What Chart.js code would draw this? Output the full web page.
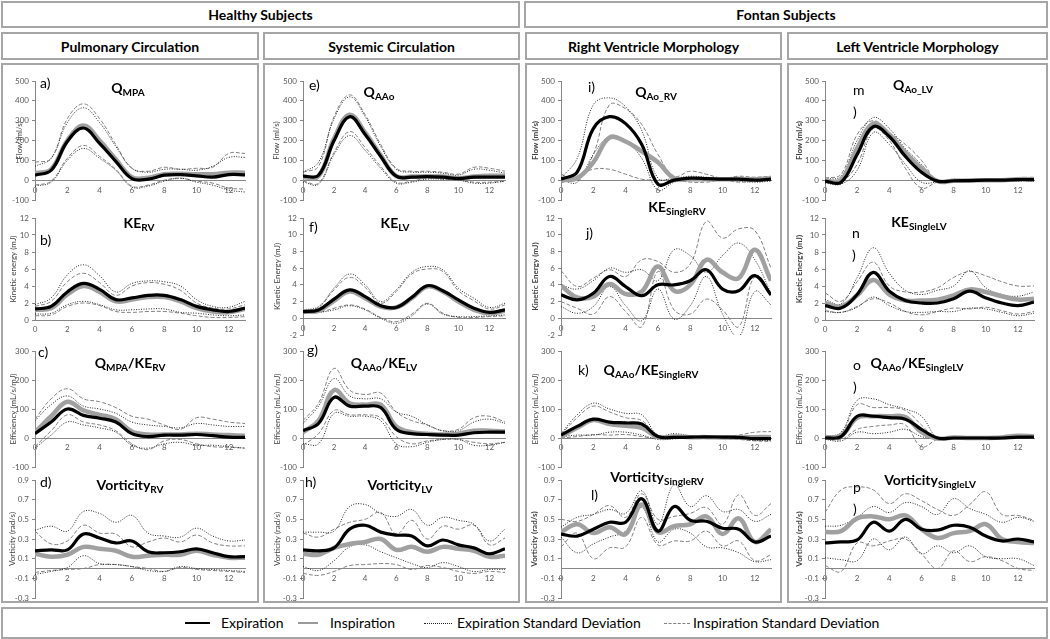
<!DOCTYPE html>
<html>
<head>
<meta charset="utf-8">
<script src="https://cdn.jsdelivr.net/npm/chart.js@4.4.1/dist/chart.umd.min.js"></script>
<style>
  body { margin: 0; background: #fff; width: 1050px; height: 639px; position: relative; overflow: hidden; font-family: Lato, "Open Sans", sans-serif; color: #000; }
  .box { position: absolute; border: 2px solid #a6a6a6; box-sizing: border-box; }
  .hdr { display: flex; align-items: center; justify-content: center; font-weight: bold; font-size: 14px; }
  canvas { position: absolute; }
  .let { position: absolute; font-size: 14px; line-height: 22px; }
  .ttl { position: absolute; font-weight: bold; font-size: 14px; transform: translate(-50%, -50%); white-space: nowrap; }
  .ttl sub { font-size: 10px; vertical-align: -3px; }
  .lg { position: absolute; height: 0; }
  .lgt { position: absolute; font-size: 14px; line-height: 16px; top: 615px; }
</style>
</head>
<body>
<div class="box hdr" style="left:1px;top:1px;width:519px;height:27px">Healthy Subjects</div>
<div class="box hdr" style="left:524px;top:1px;width:524px;height:27px">Fontan Subjects</div>
<div class="box hdr" style="left:1px;top:32px;width:258px;height:28px">Pulmonary Circulation</div>
<div class="box hdr" style="left:263px;top:32px;width:257px;height:28px">Systemic Circulation</div>
<div class="box hdr" style="left:525px;top:32px;width:257px;height:28px">Right Ventricle Morphology</div>
<div class="box hdr" style="left:787px;top:32px;width:261px;height:28px">Left Ventricle Morphology</div>
<div class="box" style="left:1px;top:63px;width:258px;height:540px"></div>
<div class="box" style="left:263px;top:63px;width:257px;height:540px"></div>
<div class="box" style="left:525px;top:63px;width:257px;height:540px"></div>
<div class="box" style="left:787px;top:63px;width:261px;height:540px"></div>
<div class="box" style="left:1px;top:607px;width:1047px;height:32px"></div>

<div class="lg" style="left:185px;top:622px;width:25px;border-top:2px solid #000"></div>
<div class="lgt" style="left:221px">Expiration</div>
<div class="lg" style="left:298px;top:622px;width:20px;border-top:2px solid #999"></div>
<div class="lgt" style="left:330px">Inspiration</div>
<div class="lg" style="left:424px;top:623px;width:28px;border-top:1px dotted #222"></div>
<div class="lgt" style="left:457px">Expiration Standard Deviation</div>
<div class="lg" style="left:664px;top:623px;width:26px;border-top:1px dashed #808080"></div>
<div class="lgt" style="left:693px">Inspiration Standard Deviation</div>

<script>
// eixo x: tempo (0..13)
const time = [0, 1, 2, 3, 4, 5, 6, 7, 8, 9, 10, 11, 12, 13];

// faixas dos eixos y: [min, max, passo]
const flowAxis = [-100, 500, 100];
const keAxis = [0, 12, 2];
const keAxisNeg = [-2, 12, 2];
const effAxis = [-100, 300, 100];
const vortAxis = [-0.3, 0.9, 0.2];

// a) Q MPA
const qMpaExp     = [25, 50, 195, 263, 185, 95, 8, 5, 25, 28, 22, 15, 28, 27];
const qMpaIns     = [35, 55, 200, 275, 200, 105, 15, 12, 30, 32, 30, 30, 38, 38];
const qMpaExpSdHi = [70, 110, 290, 365, 290, 170, 60, 40, 55, 55, 50, 70, 115, 115];
const qMpaExpSdLo = [-30, -10, 100, 160, 110, 50, -35, -30, -5, 10, -10, -25, -50, -60];
const qMpaInsSdHi = [90, 110, 310, 385, 310, 180, 60, 45, 65, 55, 60, 65, 135, 135];
const qMpaInsSdLo = [-25, -5, 110, 175, 120, 55, -30, -25, 0, 10, -5, -15, -40, -45];

// b) KE RV
const keRvExp     = [1.3, 1.6, 3.3, 4.3, 3.6, 2.4, 2.6, 2.9, 2.9, 2.4, 1.6, 1.2, 1.0, 1.4];
const keRvIns     = [1.2, 1.4, 3.0, 4.0, 3.3, 2.2, 2.4, 2.7, 2.7, 2.2, 1.4, 1.0, 0.9, 1.3];
const keRvExpSdHi = [1.8, 2.6, 5.3, 6.5, 5.2, 3.3, 4.3, 4.6, 4.5, 4.0, 2.4, 1.6, 1.5, 2.2];
const keRvExpSdLo = [0.7, 0.8, 1.8, 2.2, 1.8, 1.2, 1.2, 1.3, 1.3, 0.9, 0.8, 0.6, 0.5, 0.6];
const keRvInsSdHi = [1.6, 2.2, 4.5, 5.5, 4.4, 2.9, 4.0, 4.4, 4.2, 3.5, 2.0, 1.4, 1.3, 1.8];
const keRvInsSdLo = [0.5, 0.6, 1.6, 2.0, 1.7, 1.0, 0.9, 1.0, 1.0, 0.8, 0.5, 0.3, 0.3, 0.4];

// c) Q MPA / KE RV
const effRvExp     = [15, 55, 100, 78, 68, 55, 15, 5, 10, 10, 12, 8, 3, 2];
const effRvIns     = [20, 75, 125, 95, 80, 65, 22, 12, 12, 12, 15, 12, 10, 8];
const effRvExpSdHi = [60, 115, 145, 110, 100, 85, 55, 45, 40, 35, 50, 45, 40, 40];
const effRvExpSdLo = [-35, 10, 55, 45, 35, 20, -25, -35, -20, -15, -25, -25, -30, -35];
const effRvInsSdHi = [65, 135, 170, 135, 125, 105, 75, 65, 45, 30, 70, 65, 55, 50];
const effRvInsSdLo = [-30, 25, 80, 55, 45, 25, -20, -40, -10, -5, -20, -30, -32, -35];

// d) Vorticity RV
const vortRvExp     = [0.18, 0.19, 0.19, 0.35, 0.31, 0.26, 0.28, 0.17, 0.16, 0.17, 0.20, 0.16, 0.12, 0.12];
const vortRvIns     = [0.15, 0.12, 0.14, 0.22, 0.20, 0.18, 0.12, 0.13, 0.14, 0.14, 0.18, 0.14, 0.11, 0.11];
const vortRvExpSdHi = [0.39, 0.43, 0.38, 0.58, 0.56, 0.47, 0.54, 0.36, 0.33, 0.32, 0.41, 0.33, 0.28, 0.29];
const vortRvExpSdLo = [-0.06, -0.03, 0.01, 0.13, 0.05, 0.04, 0.02, -0.02, -0.03, 0.02, 0.0, -0.01, -0.02, -0.03];
const vortRvInsSdHi = [0.38, 0.25, 0.28, 0.44, 0.36, 0.35, 0.22, 0.27, 0.31, 0.27, 0.34, 0.26, 0.23, 0.23];
const vortRvInsSdLo = [-0.04, -0.02, -0.01, 0.0, 0.04, 0.04, 0.02, 0.0, -0.03, 0.01, -0.01, -0.02, -0.03, -0.04];

// e) Q AAo
const qAAoExp     = [20, 25, 200, 320, 230, 120, 20, 15, 18, 15, 8, 15, 15, 15];
const qAAoIns     = [15, 20, 210, 330, 240, 125, 20, 18, 20, 18, 10, 18, 22, 22];
const qAAoExpSdHi = [40, 90, 310, 420, 320, 170, 55, 40, 40, 35, 25, 55, 50, 35];
const qAAoExpSdLo = [-10, -20, 130, 225, 150, 60, -15, -10, 5, 5, 0, -15, -15, -5];
const qAAoInsSdHi = [40, 70, 320, 430, 330, 180, 60, 45, 45, 40, 30, 65, 60, 45];
const qAAoInsSdLo = [-5, -15, 140, 245, 165, 70, -10, -5, 10, 5, 0, -10, -10, -5];

// f) KE LV
const keLvExp     = [0.8, 1.0, 2.3, 3.4, 2.6, 1.5, 1.3, 2.5, 3.9, 3.3, 2.2, 1.2, 0.7, 1.0];
const keLvIns     = [0.8, 0.9, 2.1, 3.2, 2.4, 1.4, 1.3, 2.4, 3.8, 3.2, 2.0, 1.0, 0.6, 0.9];
const keLvExpSdHi = [1.0, 1.4, 3.6, 5.3, 4.0, 2.0, 3.4, 5.5, 6.2, 5.8, 3.6, 2.4, 1.3, 1.8];
const keLvExpSdLo = [0.6, 0.7, 1.0, 1.5, 1.0, 0.0, -0.6, 0.3, 1.7, 0.5, 0.2, 0.2, 0.3, 0.4];
const keLvInsSdHi = [0.9, 1.3, 3.4, 4.9, 3.7, 1.8, 3.2, 5.3, 5.9, 5.6, 3.3, 2.1, 1.1, 1.6];
const keLvInsSdLo = [0.6, 0.7, 1.2, 1.6, 1.1, 0.1, -0.4, 0.5, 1.8, 0.6, 0.1, 0.1, 0.2, 0.3];

// g) Q AAo / KE LV
const effLvExp     = [25, 50, 140, 110, 110, 105, 30, 15, 12, 10, 10, 18, 20, 20];
const effLvIns     = [20, 60, 165, 120, 115, 115, 40, 20, 15, 12, 15, 25, 25, 22];
const effLvExpSdHi = [50, 110, 205, 145, 135, 135, 90, 75, 45, 25, 25, 55, 65, 50];
const effLvExpSdLo = [-20, -20, 85, 75, 75, 60, -20, -30, -15, -5, -5, -25, -25, -15];
const effLvInsSdHi = [60, 120, 240, 165, 150, 155, 90, 60, 45, 25, 30, 70, 75, 55];
const effLvInsSdLo = [-25, 15, 95, 80, 80, 70, 5, -20, -10, -5, -5, -15, -20, -15];

// h) Vorticity LV
const vortLvExp     = [0.19, 0.18, 0.21, 0.40, 0.44, 0.37, 0.34, 0.33, 0.23, 0.29, 0.24, 0.21, 0.15, 0.20];
const vortLvIns     = [0.15, 0.14, 0.21, 0.25, 0.27, 0.30, 0.19, 0.22, 0.17, 0.22, 0.20, 0.18, 0.12, 0.13];
const vortLvExpSdHi = [0.37, 0.37, 0.38, 0.63, 0.65, 0.56, 0.53, 0.60, 0.44, 0.52, 0.49, 0.45, 0.28, 0.40];
const vortLvExpSdLo = [0.02, -0.02, 0.08, 0.22, 0.24, 0.17, 0.11, 0.05, 0.01, 0.06, 0.02, -0.03, -0.01, -0.01];
const vortLvInsSdHi = [0.36, 0.32, 0.40, 0.47, 0.50, 0.57, 0.35, 0.49, 0.30, 0.43, 0.40, 0.44, 0.24, 0.31];
const vortLvInsSdLo = [-0.05, -0.07, -0.03, 0.03, 0.04, 0.05, 0.04, -0.01, 0.03, 0.01, -0.03, -0.05, -0.03, -0.04];

// i) Q Ao_RV
const qAoRvExp     = [5, 40, 260, 320, 285, 180, -20, 0, 10, 8, 5, 5, 0, 5];
const qAoRvIns     = [0, 10, 90, 215, 195, 145, 90, 10, 5, 5, 5, 5, 5, 8];
const qAoRvExpSdHi = [10, 110, 380, 415, 370, 250, 10, 10, 20, 15, 10, 15, 10, 15];
const qAoRvExpSdLo = [0, -10, 130, 220, 195, 110, -50, -10, 0, 0, 0, -5, -10, -5];
const qAoRvInsSdHi = [30, 5, 130, 380, 360, 280, 130, 20, 45, 30, 10, 20, 15, 20];
const qAoRvInsSdLo = [-15, 20, 55, 55, 30, 5, 0, 0, -10, -10, 0, -10, -5, 0];

// j) KE SingleRV
const keSrvExp     = [2.8, 2.2, 3.0, 5.0, 3.8, 2.7, 4.0, 4.0, 4.5, 5.8, 3.5, 3.3, 5.1, 2.8];
const keSrvIns     = [3.9, 2.5, 2.6, 4.1, 2.9, 3.2, 6.2, 3.3, 4.0, 7.0, 5.5, 4.8, 8.2, 4.5];
const keSrvExpSdHi = [4.0, 3.5, 4.5, 6.0, 5.5, 5.8, 4.5, 8.2, 7.5, 5.5, 7.5, 9.0, 7.0, 3.0];
const keSrvExpSdLo = [1.4, 0.6, 1.4, 3.8, 1.5, -0.3, 3.5, -0.1, 1.5, 5.0, 0.5, -2.2, 3.2, 1.6];
const keSrvInsSdHi = [5.7, 3.8, 4.8, 5.8, 5.0, 7.0, 6.8, 5.5, 6.5, 11.6, 9.6, 10.7, 10.5, 6.0];
const keSrvInsSdLo = [2.0, 1.2, 0.5, 2.6, 0.8, -1.0, 5.6, 1.0, 0.5, 2.3, 1.0, -1.0, 5.0, 3.0];

// k) Q AAo / KE SingleRV
const effSrvExp     = [10, 40, 65, 55, 52, 48, 5, 2, 3, 4, 3, 2, -2, -2];
const effSrvIns     = [5, 35, 62, 48, 42, 35, 3, 5, 3, 3, 2, 2, 3, 3];
const effSrvExpSdHi = [15, 80, 120, 100, 85, 80, 10, 15, 8, 6, 5, 5, 3, 3];
const effSrvExpSdLo = [5, 10, 10, 20, 20, 10, -5, -3, 0, 2, 0, -3, -8, -8];
const effSrvInsSdHi = [12, 70, 110, 90, 70, 60, 8, 8, 6, 5, 5, 10, 20, 22];
const effSrvInsSdLo = [0, 5, 12, 10, 12, 5, -2, 0, 0, 0, -2, -5, -10, -12];

// l) Vorticity SingleRV
const vortSrvExp     = [0.35, 0.33, 0.40, 0.47, 0.47, 0.71, 0.38, 0.63, 0.49, 0.48, 0.41, 0.40, 0.27, 0.33];
const vortSrvIns     = [0.37, 0.45, 0.36, 0.42, 0.35, 0.65, 0.37, 0.43, 0.45, 0.53, 0.35, 0.51, 0.27, 0.40];
const vortSrvExpSdHi = [0.42, 0.52, 0.55, 0.60, 0.56, 0.79, 0.45, 0.85, 0.63, 0.74, 0.58, 0.60, 0.48, 0.55];
const vortSrvExpSdLo = [0.32, 0.16, 0.25, 0.32, 0.38, 0.62, 0.27, 0.40, 0.36, 0.22, 0.21, 0.16, 0.07, 0.09];
const vortSrvInsSdHi = [0.50, 0.48, 0.55, 0.64, 0.52, 0.76, 0.50, 0.53, 0.56, 0.62, 0.45, 0.75, 0.54, 0.66];
const vortSrvInsSdLo = [0.22, 0.36, 0.10, 0.21, 0.22, 0.52, 0.24, 0.28, 0.28, 0.38, 0.23, 0.28, 0.08, 0.14];

// m) Q Ao_LV
const qAoLvExp     = [-5, -10, 130, 270, 220, 120, 40, -5, -3, -2, 0, 0, 3, 3];
const qAoLvIns     = [-3, 0, 160, 285, 230, 140, 60, -5, -3, -2, 0, 0, 5, 5];
const qAoLvExpSdHi = [5, 20, 200, 315, 260, 160, 80, 0, 5, 2, 5, 5, 10, 10];
const qAoLvExpSdLo = [-15, -20, 50, 240, 180, 80, -10, -10, -10, -8, -5, -5, -5, -5];
const qAoLvInsSdHi = [10, 30, 230, 300, 240, 180, 100, -5, 0, 0, 2, 2, 12, 15];
const qAoLvInsSdLo = [-10, -10, 80, 260, 200, 60, -40, -10, -8, -5, -5, -5, -3, -3];

// n) KE SingleLV
const keSlvExp     = [1.7, 1.4, 3.0, 5.6, 3.4, 2.3, 2.0, 2.0, 2.5, 3.4, 2.6, 2.0, 1.7, 2.1];
const keSlvIns     = [2.0, 1.6, 2.9, 4.7, 3.0, 2.3, 2.3, 2.4, 2.9, 3.6, 3.3, 2.8, 2.4, 2.5];
const keSlvExpSdHi = [2.4, 1.9, 5.0, 8.5, 5.5, 3.5, 3.0, 3.5, 4.0, 5.8, 3.8, 3.0, 2.8, 3.3];
const keSlvExpSdLo = [1.0, 0.9, 1.5, 2.7, 1.7, 1.0, 0.9, 1.0, 1.0, 1.4, 1.3, 0.9, 0.5, 0.8];
const keSlvInsSdHi = [3.2, 2.2, 4.5, 6.8, 4.0, 3.3, 3.3, 3.8, 5.0, 5.7, 5.2, 4.5, 4.0, 4.0];
const keSlvInsSdLo = [1.1, 0.9, 1.6, 2.5, 2.0, 1.0, 0.6, 1.0, 1.4, 1.3, 1.5, 1.1, 0.7, 1.0];

// o) Q AAo / KE SingleLV
const effSlvExp     = [0, 5, 75, 75, 70, 65, 30, 0, 0, 0, 0, 0, 3, 3];
const effSlvIns     = [2, 8, 70, 75, 75, 72, 20, -2, 2, 0, 0, 2, 8, 5];
const effSlvExpSdHi = [5, 20, 130, 135, 115, 100, 75, 0, 5, 3, 2, 2, 10, 8];
const effSlvExpSdLo = [-5, -10, 20, 15, 20, 30, 5, -3, -3, -2, -2, -2, 0, 0];
const effSlvInsSdHi = [5, 15, 115, 105, 105, 95, 45, -5, 3, 2, 0, 3, 12, 5];
const effSlvInsSdLo = [-3, -5, 30, 40, 45, 45, -30, -5, -2, -2, -2, 0, 5, 3];

// p) Vorticity SingleLV
const vortSlvExp     = [0.26, 0.27, 0.29, 0.47, 0.38, 0.50, 0.40, 0.39, 0.44, 0.42, 0.33, 0.28, 0.30, 0.27];
const vortSlvIns     = [0.37, 0.38, 0.51, 0.53, 0.50, 0.54, 0.40, 0.31, 0.36, 0.38, 0.45, 0.30, 0.27, 0.26];
const vortSlvExpSdHi = [0.43, 0.44, 0.52, 0.63, 0.57, 0.67, 0.63, 0.55, 0.71, 0.61, 0.55, 0.47, 0.52, 0.48];
const vortSlvExpSdLo = [0.11, 0.09, 0.08, 0.30, 0.19, 0.32, 0.15, 0.23, 0.16, 0.23, 0.12, 0.10, 0.10, 0.03];
const vortSlvInsSdHi = [0.57, 0.80, 0.83, 0.80, 0.66, 0.76, 0.69, 0.60, 0.54, 0.65, 0.78, 0.55, 0.54, 0.49];
const vortSlvInsSdLo = [0.03, -0.03, 0.26, 0.23, 0.28, 0.30, 0.15, 0.00, 0.18, 0.07, 0.12, 0.08, 0.00, -0.02];

// posição da área de plotagem de cada coluna / linha
const colL = [35, 303, 561, 825];
const colR = [245, 505, 771, 1034];
const rowT = [81, 218, 351, 480];
const rowB = [200, 320, 467, 598];

const panels = [
  { col: 0, row: 0, axis: flowAxis, yTitle: 'Flow (ml/s)', tOff: 15, letter: 'a)', lx: 40, ly: 83, title: 'Q<sub>MPA</sub>', tx: 128, ty: 88,
    s: [qMpaExp, qMpaIns, qMpaExpSdHi, qMpaExpSdLo, qMpaInsSdHi, qMpaInsSdLo] },
  { col: 0, row: 1, axis: keAxis, yTitle: 'Kinetic energy (mJ)', tOff: 21, letter: 'b)', lx: 40, ly: 240, title: 'KE<sub>RV</sub>', tx: 139, ty: 223,
    s: [keRvExp, keRvIns, keRvExpSdHi, keRvExpSdLo, keRvInsSdHi, keRvInsSdLo] },
  { col: 0, row: 2, axis: effAxis, yTitle: 'Efficiency (mL/s/mJ)', tOff: 21, letter: 'c)', lx: 38, ly: 352, title: 'Q<sub>MPA</sub>/KE<sub>RV</sub>', tx: 130, ty: 363,
    s: [effRvExp, effRvIns, effRvExpSdHi, effRvExpSdLo, effRvInsSdHi, effRvInsSdLo] },
  { col: 0, row: 3, axis: vortAxis, yTitle: 'Vorticity (rad/s)', tOff: 22, letter: 'd)', lx: 40, ly: 482, title: 'Vorticity<sub>RV</sub>', tx: 130, ty: 485,
    s: [vortRvExp, vortRvIns, vortRvExpSdHi, vortRvExpSdLo, vortRvInsSdHi, vortRvInsSdLo] },
  { col: 1, row: 0, axis: flowAxis, yTitle: 'Flow (ml/s)', tOff: 26, letter: 'e)', lx: 309, ly: 85, title: 'Q<sub>AAo</sub>', tx: 379, ty: 92,
    s: [qAAoExp, qAAoIns, qAAoExpSdHi, qAAoExpSdLo, qAAoInsSdHi, qAAoInsSdLo] },
  { col: 1, row: 1, axis: keAxisNeg, yTitle: 'Kinetic Energy (mJ)', tOff: 25, letter: 'f)', lx: 309, ly: 227, title: 'KE<sub>LV</sub>', tx: 395, ty: 223,
    s: [keLvExp, keLvIns, keLvExpSdHi, keLvExpSdLo, keLvInsSdHi, keLvInsSdLo] },
  { col: 1, row: 2, axis: effAxis, yTitle: 'Efficiency (mL/s/mJ)', tOff: 25, letter: 'g)', lx: 307, ly: 350, title: 'Q<sub>AAo</sub>/KE<sub>LV</sub>', tx: 384, ty: 363,
    s: [effLvExp, effLvIns, effLvExpSdHi, effLvExpSdLo, effLvInsSdHi, effLvInsSdLo] },
  { col: 1, row: 3, axis: vortAxis, yTitle: 'Vorticity (rad/s)', tOff: 25, letter: 'h)', lx: 305, ly: 482, title: 'Vorticity<sub>LV</sub>', tx: 400, ty: 485,
    s: [vortLvExp, vortLvIns, vortLvExpSdHi, vortLvExpSdLo, vortLvInsSdHi, vortLvInsSdLo] },
  { col: 2, row: 0, axis: flowAxis, yTitle: 'Flow (ml/s)', tOff: 25, bold: true, letter: 'i)', lx: 588, ly: 87, title: 'Q<sub>Ao_RV</sub>', tx: 656, ty: 92,
    s: [qAoRvExp, qAoRvIns, qAoRvExpSdHi, qAoRvExpSdLo, qAoRvInsSdHi, qAoRvInsSdLo] },
  { col: 2, row: 1, axis: keAxisNeg, yTitle: 'Kinetic Energy (mJ)', tOff: 25, bold: true, letter: 'j)', lx: 586, ly: 233, title: 'KE<sub>SingleRV</sub>', tx: 677, ty: 207,
    s: [keSrvExp, keSrvIns, keSrvExpSdHi, keSrvExpSdLo, keSrvInsSdHi, keSrvInsSdLo] },
  { col: 2, row: 2, axis: effAxis, yTitle: 'Efficiency (mL/s/mJ)', tOff: 25, letter: 'k)', lx: 578, ly: 370, title: 'Q<sub>AAo</sub>/KE<sub>SingleRV</sub>', tx: 651, ty: 370,
    s: [effSrvExp, effSrvIns, effSrvExpSdHi, effSrvExpSdLo, effSrvInsSdHi, effSrvInsSdLo] },
  { col: 2, row: 3, axis: vortAxis, yTitle: 'Vorticity (rad/s)', tOff: 26, bold: true, letter: 'l)', lx: 591, ly: 495, title: 'Vorticity<sub>SingleRV</sub>', tx: 657, ty: 477,
    s: [vortSrvExp, vortSrvIns, vortSrvExpSdHi, vortSrvExpSdLo, vortSrvInsSdHi, vortSrvInsSdLo] },
  { col: 3, row: 0, axis: flowAxis, yTitle: 'Flow (ml/s)', tOff: 25, bold: true, letter: 'm<br>)', lx: 853, ly: 90, title: 'Q<sub>Ao_LV</sub>', tx: 913, ty: 85,
    s: [qAoLvExp, qAoLvIns, qAoLvExpSdHi, qAoLvExpSdLo, qAoLvInsSdHi, qAoLvInsSdLo] },
  { col: 3, row: 1, axis: keAxis, yTitle: 'Kinetic Energy (mJ)', tOff: 25, bold: true, letter: 'n<br>)', lx: 852, ly: 233, title: 'KE<sub>SingleLV</sub>', tx: 919, ty: 222,
    s: [keSlvExp, keSlvIns, keSlvExpSdHi, keSlvExpSdLo, keSlvInsSdHi, keSlvInsSdLo] },
  { col: 3, row: 2, axis: effAxis, yTitle: 'Efficiency (mL/s/mJ)', tOff: 25, letter: 'o<br>)', lx: 853, ly: 365, title: 'Q<sub>AAo</sub>/KE<sub>SingleLV</sub>', tx: 917, ty: 363,
    s: [effSlvExp, effSlvIns, effSlvExpSdHi, effSlvExpSdLo, effSlvInsSdHi, effSlvInsSdLo] },
  { col: 3, row: 3, axis: vortAxis, yTitle: 'Vorticity (rad/s)', tOff: 25, bold: true, letter: 'p<br>)', lx: 853, ly: 487, title: 'Vorticity<sub>SingleLV</sub>', tx: 930, ty: 480,
    s: [vortSlvExp, vortSlvIns, vortSlvExpSdHi, vortSlvExpSdLo, vortSlvInsSdHi, vortSlvInsSdLo] }
];

Chart.defaults.font.family = 'Lato, "Open Sans", sans-serif';

const AXW = 34, PADR = 8, PADT = 8, PADB = 14;

// estilos das 6 séries: expiração, inspiração, DP expiração (2x), DP inspiração (2x)
const styles = [
  { borderColor: '#000', borderWidth: 3.2 },
  { borderColor: '#a0a0a0', borderWidth: 4.5 },
  { borderColor: '#222', borderWidth: 1, borderDash: [1, 1.5] },
  { borderColor: '#222', borderWidth: 1, borderDash: [1, 1.5] },
  { borderColor: '#808080', borderWidth: 1, borderDash: [4, 2] },
  { borderColor: '#808080', borderWidth: 1, borderDash: [4, 2] }
];

function addText(cls, html, left, top) {
  const d = document.createElement('div');
  d.className = cls;
  d.innerHTML = html;
  d.style.left = left + 'px';
  d.style.top = top + 'px';
  document.body.appendChild(d);
}

function makeChart(p) {
  const L = colL[p.col], R = colR[p.col], T = rowT[p.row];
  const B = p.axis[0] < 0 && p.row === 1 ? 335 : rowB[p.row];
  const c = document.createElement('canvas');
  c.width = R - L + AXW + PADR;
  c.height = B - T + PADT + PADB;
  c.style.left = (L - AXW) + 'px';
  c.style.top = (T - PADT) + 'px';
  document.body.appendChild(c);

  const datasets = p.s.map((arr, i) => Object.assign({
    data: time.map((t, k) => ({ x: t, y: arr[k] })),
    pointRadius: 0,
    tension: 0.4,
    fill: false
  }, styles[i]));

  new Chart(c, {
    type: 'line',
    data: { datasets: datasets },
    options: {
      responsive: false,
      animation: false,
      devicePixelRatio: 1,
      layout: { padding: { left: 0, right: PADR, top: PADT, bottom: PADB } },
      plugins: { legend: { display: false }, tooltip: { enabled: false } },
      scales: {
        x: {
          type: 'linear', position: { y: 0 }, min: 0, max: 13,
          ticks: { stepSize: 2, includeBounds: false, maxRotation: 0, padding: 5, color: '#595959', font: { size: 8 } },
          grid: { display: false, drawTicks: false },
          border: { color: '#868686', width: 1 }
        },
        y: {
          type: 'linear', position: 'left', min: p.axis[0], max: p.axis[1],
          ticks: { stepSize: p.axis[2], padding: 3, color: '#595959', font: { size: 8 } },
          grid: { display: true, drawOnChartArea: false, drawTicks: true, tickLength: 3, color: '#868686' },
          border: { color: '#868686', width: 1 },
          title: { display: true, text: p.yTitle, color: '#404040', font: { size: 8, weight: p.bold ? 'bold' : 'normal' },
                   padding: { top: AXW - p.tOff - 5, bottom: 0 } },
          afterFit: s => { s.width = AXW; }
        }
      }
    }
  });

  addText('let', p.letter, p.lx, p.ly - 11);
  addText('ttl', p.title, p.tx, p.ty);
}

panels.forEach(makeChart);
</script>
</body>
</html>
